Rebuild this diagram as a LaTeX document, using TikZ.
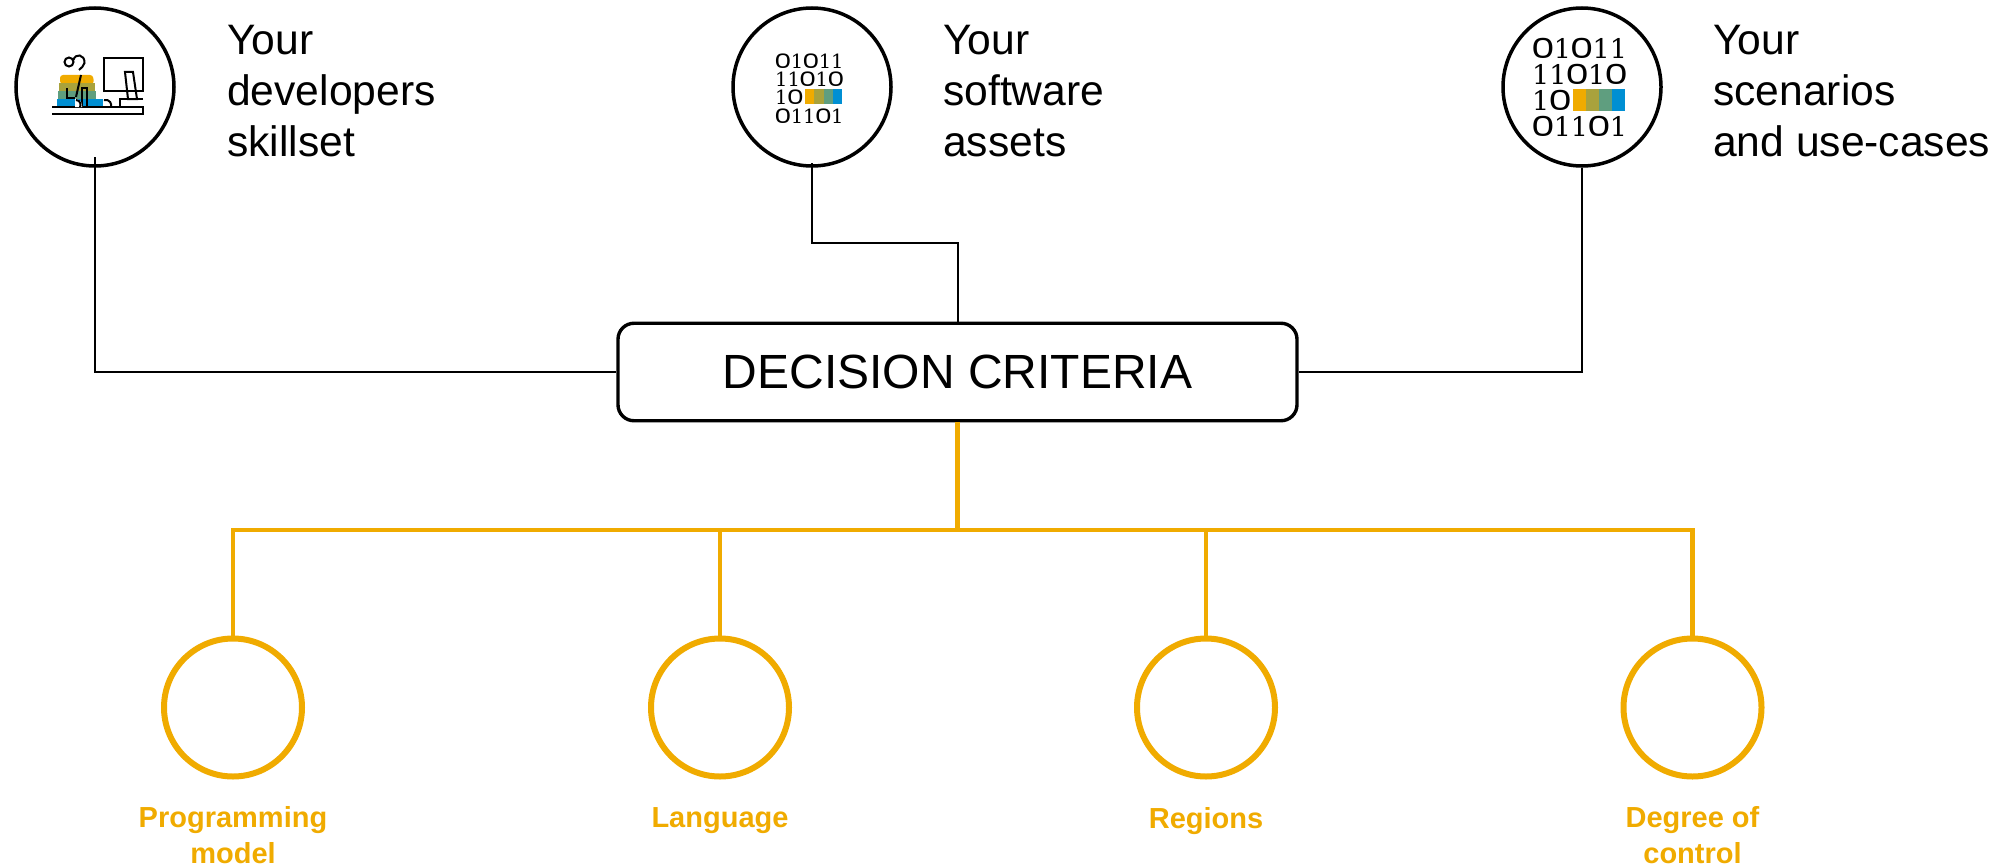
\documentclass[tikz,border=0pt]{standalone}
\usepackage{fontspec}
\usepackage{graphicx}
\setmainfont{Liberation Sans}
\newfontfamily\iconfont{Poppins}
\newfontfamily\slabfont{DejaVu Serif}
\definecolor{sapgold}{HTML}{F0AB00}
\definecolor{bandb}{HTML}{A9A23C}
\definecolor{bandc}{HTML}{5F9E7F}
\definecolor{bandd}{HTML}{008FD3}
\newcommand{\zz}{\kern-.04em\resizebox{.88em}{.75em}{\iconfont 0}\kern-.04em}
\newcommand{\oo}{{\slabfont 1}}
\tikzset{
  x=1pt,y=-1pt,
  blackcircle/.style={circle,draw=black,line width=3.5pt,minimum size=158pt,inner sep=0pt},
  goldcircle/.style={circle,draw=sapgold,line width=6pt,minimum size=138pt,inner sep=0pt},
  critbox/.style={rectangle,rounded corners=16pt,draw=black,line width=3.4pt,minimum width=679pt,minimum height=97.5pt,inner sep=0pt,font=\fontsize{48}{54}\selectfont},
  thinlink/.style={draw=black,line width=2pt},
  goldlink/.style={draw=sapgold,line width=4.5pt},
  headtext/.style={anchor=north west,align=left,inner sep=0pt,font=\fontsize{42.6}{51}\selectfont},
  goldtext/.style={anchor=north,align=center,inner sep=0pt,text=sapgold,font=\fontsize{29}{36}\selectfont\bfseries},
  iconline/.style={draw=black,line width=2pt,line join=miter},
  binsmall/.style={anchor=west,inner sep=0pt,font=\fontsize{19.5}{20}\selectfont},
  binlarge/.style={anchor=west,inner sep=0pt,font=\fontsize{27}{29}\selectfont},
}
\begin{document}
\begin{tikzpicture}
\useasboundingbox (0,0) rectangle (2008,867);

% circles and central box
\node[blackcircle] (devs) at (95,87) {};
\node[blackcircle] (soft) at (812,87) {};
\node[blackcircle] (scen) at (1582,87) {};
\node[critbox] (crit) at (957.5,372) {DECISION CRITERIA};

% top connectors
\coordinate (devsend) at (95,157);
\coordinate (softend) at (812,163);
\path[thinlink] (devsend) |- (crit.west);
\path[thinlink] (softend) -- (812,243) -- (957.5,243) -- (crit.north);
\path[thinlink] (scen.south) |- (crit.east);

% gold circles
\node[goldcircle] (g1) at (233,707.5) {};
\node[goldcircle] (g2) at (720,707.5) {};
\node[goldcircle] (g3) at (1206,707.5) {};
\node[goldcircle] (g4) at (1692.5,707.5) {};
\coordinate (bus) at (957.5,530);
\path[goldlink] (crit.south) -- (bus);
\path[goldlink,line join=miter] (g1.north) |- (bus) -| (g4.north);
\path[goldlink] (g2.north) -- (g2.north |- bus);
\path[goldlink] (g3.north) -- (g3.north |- bus);

% header texts
\node[headtext] (t1) at (227,25) {Your\\developers\\skillset};
\node[headtext] (t2) at (943,25) {Your\\software\\assets};
\node[headtext] (t3) at (1713,25) {Your\\scenarios\\and use-cases};

% gold labels
\node[goldtext] (l1) at (233,806.5) {Programming\\model};
\node[goldtext] (l2) at (720,807) {Language};
\node[goldtext] (l3) at (1206,807) {Regions};
\node[goldtext] (l4) at (1692.5,806.5) {Degree of\\control};

% developer icon
\begin{scope}
  \fill[sapgold,rounded corners=3pt] (60,84) -- (60,75) -- (93,75) -- (94,84) -- cycle;
  \fill[bandb] (59,83) rectangle (94.5,91);
  \fill[bandc] (58,91) rectangle (95.5,99);
  \fill[bandd] (57,99) rectangle (103,107);
  \draw[iconline] (104,58) rectangle (143,91);
  \draw[iconline] (52,107) -- (143,107) -- (143,114) -- (52,114);
  \draw[iconline] (125,72) -- (133,72) -- (137,99) -- (128,99) -- cycle;
  \draw[iconline] (143,99) -- (120,99) -- (120,107);
  \draw[iconline] (69,62) circle[radius=4.5];
  \draw[iconline] (73.5,60) .. controls (75,53) and (85,54) .. (84.5,63) .. controls (84,66) and (81,68) .. (79,70);
  \draw[iconline] (81,75) -- (76,97);
  \draw[iconline] (67,88) -- (67,98) -- (75,98);
  \draw[iconline] (82,107) -- (82,87.5) -- (87,87.5) -- (87,107);
  \draw[white,line width=2pt,fill=white] (76,100) .. controls (81,100) and (81,106) .. (81,106) -- (76,106) -- cycle;
  \draw[iconline] (76,100) .. controls (81,100) and (81,106) .. (80,107);
  \draw[iconline] (104,100) .. controls (110,99) and (112,104) .. (111,107);
\end{scope}

% small binary icon
\fill[sapgold] (805,89) rectangle (814.3,104);
\fill[bandb] (814.3,89) rectangle (823.5,104);
\fill[bandc] (823.5,89) rectangle (832.8,104);
\fill[bandd] (832.8,89) rectangle (842,104);
\node[binsmall] (s1) at (775,61) {\zz\oo\zz\oo\oo};
\node[binsmall] (s2) at (775,79) {\oo\oo\zz\oo\zz};
\node[binsmall] (s3) at (775,97) {\oo\zz};
\node[binsmall] (s4) at (775,116) {\zz\oo\oo\zz\oo};

% large binary icon
\fill[sapgold] (1573,89) rectangle (1586,111);
\fill[bandb] (1586,89) rectangle (1599,111);
\fill[bandc] (1599,89) rectangle (1612,111);
\fill[bandd] (1612,89) rectangle (1625,111);
\node[binlarge] (b1) at (1532,48) {\zz\oo\zz\oo\oo};
\node[binlarge] (b2) at (1532,74) {\oo\oo\zz\oo\zz};
\node[binlarge] (b3) at (1532,100) {\oo\zz};
\node[binlarge] (b4) at (1532,126) {\zz\oo\oo\zz\oo};
\end{tikzpicture}
\end{document}
